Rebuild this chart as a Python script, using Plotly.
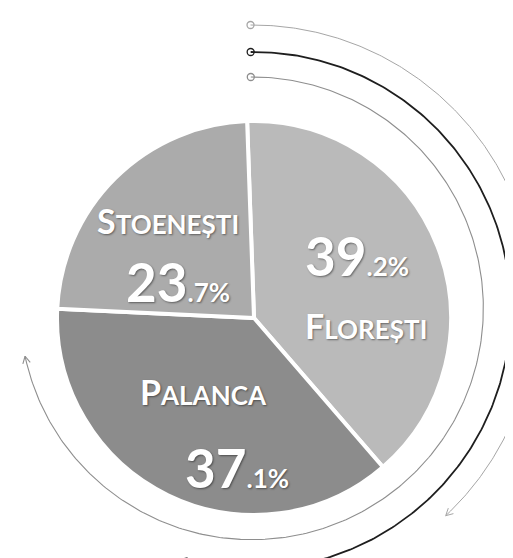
import numpy as np
import plotly.graph_objects as go

# ---- data ----
labels = ["Florești", "Palanca", "Stoenești"]
values = [39.2, 37.1, 23.7]
colors = ["#bababa", "#8c8c8c", "#ababab"]

W, H = 513, 558
FONT = "Lato, Roboto, 'Open Sans', sans-serif"

fig = go.Figure()

# pie (center ~ (246,310) px, radius ~197 px)
pcx, pcy, pr = 246, 310, 197
fig.add_trace(go.Pie(
    labels=labels, values=values, sort=False, direction="clockwise", rotation=-2,
    marker=dict(colors=colors, line=dict(color="white", width=4)),
    textinfo="none", hoverinfo="label+percent", showlegend=False,
    domain=dict(x=[(pcx - pr) / W, (pcx + pr) / W],
                y=[1 - (pcy + pr) / H, 1 - (pcy - pr) / H]),
))

# decorative arcs around the pie
acx, acy = 244, 300
arcs = [  # r_start, r_end, theta_end(deg), color, width
    (283, 284, 137, "#a6a6a6", 1.0),
    (256, 262, 196, "#1e1e1e", 1.8),
    (231, 232, 258, "#8e8e8e", 1.1),
]
for r0, r1, tend, col, lw in arcs:
    th = np.radians(np.linspace(-0.3, tend, 300))
    r = np.linspace(r0, r1, th.size)
    x = acx + r * np.sin(th)
    y = acy - r * np.cos(th)
    fig.add_trace(go.Scatter(x=x, y=y, mode="lines", line=dict(color=col, width=lw),
                             hoverinfo="skip", showlegend=False))
    # arrow head at the end (direction of travel)
    t = th[-1]
    d = np.array([np.cos(t), np.sin(t)])
    tip = np.array([x[-1], y[-1]])
    L, a = 8, np.radians(28)
    rot = lambda v, ang: np.array([v[0] * np.cos(ang) - v[1] * np.sin(ang),
                                   v[0] * np.sin(ang) + v[1] * np.cos(ang)])
    b1 = tip - L * rot(d, a)
    b2 = tip - L * rot(d, -a)
    fig.add_trace(go.Scatter(x=[b1[0], tip[0], b2[0]], y=[b1[1], tip[1], b2[1]],
                             mode="lines", line=dict(color=col, width=lw),
                             hoverinfo="skip", showlegend=False))
    # start circle
    fig.add_trace(go.Scatter(x=[x[0]], y=[y[0]], mode="markers",
                             marker=dict(symbol="circle-open", size=7,
                                         line=dict(color=col, width=1.3), color=col),
                             hoverinfo="skip", showlegend=False))

# slice labels (positions in px)
name_pos = {"Florești": (358, 317), "Palanca": (195, 383), "Stoenești": (160, 212)}
val_pos = {"Florești": (349, 247), "Palanca": (229, 459), "Stoenești": (170, 273)}

shadow = "1px 1px 2px rgba(0,0,0,0.45)"
for lab, val in zip(labels, values):
    up = lab.upper()
    name_txt = f"{up[0]}<span style='font-size:26px'>{up[1:]}</span>"
    ip, dp = f"{val:.1f}".split(".")
    val_txt = f"{ip}<span style='font-size:26px'>.{dp}%</span>"
    nx, ny = name_pos[lab]
    vx, vy = val_pos[lab]
    fig.add_annotation(x=nx, y=ny, text=name_txt, showarrow=False, xanchor="center",
                       yanchor="middle",
                       font=dict(family=FONT, size=34, color="white", weight="bold",
                                 shadow=shadow))
    fig.add_annotation(x=vx, y=vy, text=val_txt, showarrow=False, xanchor="center",
                       yanchor="middle",
                       font=dict(family=FONT, size=53, color="white", weight="bold",
                                 shadow=shadow))

fig.update_xaxes(range=[0, W], visible=False, fixedrange=True)
fig.update_yaxes(range=[H, 0], visible=False, fixedrange=True)
fig.update_layout(width=W, height=H, margin=dict(l=0, r=0, t=0, b=0),
                  paper_bgcolor="white", plot_bgcolor="white")

fig.write_html("out.html")
